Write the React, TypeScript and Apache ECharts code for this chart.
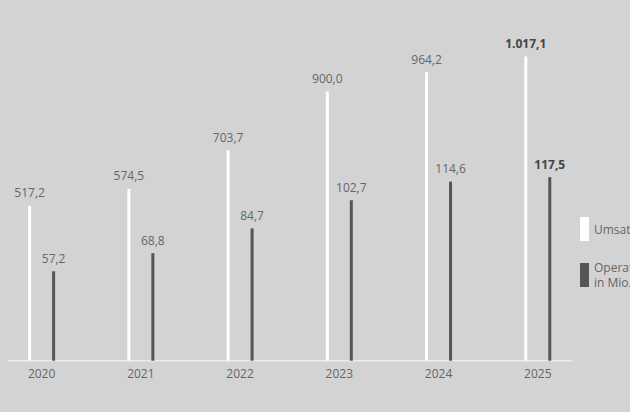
import React, { useEffect, useRef } from "react";
import * as echarts from "echarts";

const years = ["2020", "2021", "2022", "2023", "2024", "2025"];
const umsatz = [517.2, 574.5, 703.7, 900.0, 964.2, 1017.1];
const ergebnis = [57.2, 68.8, 84.7, 102.7, 114.6, 117.5];
const seriesNames = ["Umsatz in Mio. €", "Operatives Ergebnis\nin Mio. €"];
const highlightIndex = 5;

const fmt = (v: number) => {
  const [i, d] = v.toFixed(1).split(".");
  const withSep = i.replace(/\B(?=(\d{3})+(?!\d))/g, ".");
  return withSep + "," + d;
};

const FONT = "'Open Sans', 'Noto Sans', sans-serif";
const SHIFT = 20; // canvas extends SHIFT px beyond the left edge of the window

export default function App() {
  const ref = useRef<HTMLDivElement>(null);
  useEffect(() => {
    if (!ref.current) return;
    const chart = echarts.init(ref.current, undefined, { renderer: "svg" });
    const mk = (arr: number[]) =>
      arr.map((v, i) =>
        i === highlightIndex
          ? { value: v, label: { fontWeight: "bold", color: "#444" } }
          : { value: v }
      );
    const labelCfg = {
      show: true,
      position: "top",
      distance: 7,
      color: "#666",
      fontSize: 12,
      fontFamily: FONT,
      formatter: (p: any) => fmt(p.value),
    };
    chart.setOption({
      animation: false,
      backgroundColor: "#d3d3d3",
      textStyle: { fontFamily: FONT },
      grid: { left: SHIFT - 8, right: 42.6, top: 10.7, bottom: 51.3, containLabel: false },
      legend: {
        orient: "vertical",
        left: SHIFT + 580,
        top: 217,
        padding: 0,
        itemWidth: 9,
        itemHeight: 24,
        itemGap: 19,
        icon: "rect",
        selectedMode: false,
        textStyle: { color: "#666", fontSize: 12, lineHeight: 15, fontFamily: FONT },
        data: seriesNames,
      },
      xAxis: {
        type: "category",
        data: years,
        boundaryGap: true,
        axisLine: { show: false },
        axisTick: { show: false },
        axisLabel: { color: "#666", fontSize: 12, margin: 7, fontFamily: FONT },
      },
      yAxis: [
        { type: "value", min: 0, max: 1170, show: false, splitLine: { show: false } },
        { type: "value", min: 0, max: 224, show: false, splitLine: { show: false } },
      ],
      graphic: [
        {
          type: "line",
          shape: { x1: SHIFT + 8, y1: 360.7, x2: SHIFT + 572.7, y2: 360.7 },
          style: { stroke: "#ececec", lineWidth: 1.5 },
          z: 0,
        },
      ],
      series: [
        {
          name: seriesNames[0],
          type: "bar",
          yAxisIndex: 0,
          barWidth: 3,
          barGap: "700%",
          itemStyle: { color: "#ffffff" },
          label: labelCfg,
          data: mk(umsatz),
        },
        {
          name: seriesNames[1],
          type: "bar",
          yAxisIndex: 1,
          barWidth: 3,
          barGap: "700%",
          itemStyle: { color: "#555555" },
          label: labelCfg,
          data: mk(ergebnis),
        },
      ],
    });
    return () => chart.dispose();
  }, []);
  return (
    <div
      ref={ref}
      style={{ position: "fixed", left: -SHIFT, top: 0, width: 630 + SHIFT, height: 412 }}
    />
  );
}
